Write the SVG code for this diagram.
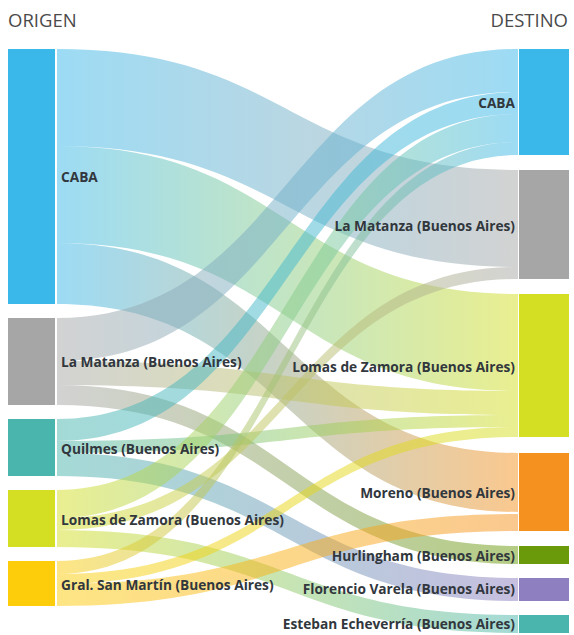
<svg xmlns="http://www.w3.org/2000/svg" width="574" height="635" viewBox="0 0 574 635">
<style>
.hdr{font-family:"Open Sans","Liberation Sans",sans-serif;font-size:18.5px;fill:#4a4a4a}
.lbl{font-family:"Open Sans","Liberation Sans",sans-serif;font-size:13.7px;font-weight:bold;fill:#31373d}
.r{text-anchor:end}
.lk{fill-opacity:0.5}
</style>
<defs>
<linearGradient id="g1" gradientUnits="userSpaceOnUse" x1="57" y1="0" x2="518" y2="0"><stop offset="0" stop-color="#3bb8ea"/><stop offset="1" stop-color="#a6a6a6"/></linearGradient>
<linearGradient id="g2" gradientUnits="userSpaceOnUse" x1="57" y1="0" x2="518" y2="0"><stop offset="0" stop-color="#3bb8ea"/><stop offset="1" stop-color="#d4de22"/></linearGradient>
<linearGradient id="g3" gradientUnits="userSpaceOnUse" x1="57" y1="0" x2="518" y2="0"><stop offset="0" stop-color="#3bb8ea"/><stop offset="1" stop-color="#f5921f"/></linearGradient>
<linearGradient id="g4" gradientUnits="userSpaceOnUse" x1="57" y1="0" x2="518" y2="0"><stop offset="0" stop-color="#a6a6a6"/><stop offset="1" stop-color="#3bb8ea"/></linearGradient>
<linearGradient id="g5" gradientUnits="userSpaceOnUse" x1="57" y1="0" x2="518" y2="0"><stop offset="0" stop-color="#a6a6a6"/><stop offset="1" stop-color="#d4de22"/></linearGradient>
<linearGradient id="g6" gradientUnits="userSpaceOnUse" x1="57" y1="0" x2="518" y2="0"><stop offset="0" stop-color="#a6a6a6"/><stop offset="1" stop-color="#6a9a0a"/></linearGradient>
<linearGradient id="g7" gradientUnits="userSpaceOnUse" x1="57" y1="0" x2="518" y2="0"><stop offset="0" stop-color="#4ab5ad"/><stop offset="1" stop-color="#3bb8ea"/></linearGradient>
<linearGradient id="g8" gradientUnits="userSpaceOnUse" x1="57" y1="0" x2="518" y2="0"><stop offset="0" stop-color="#4ab5ad"/><stop offset="1" stop-color="#d4de22"/></linearGradient>
<linearGradient id="g9" gradientUnits="userSpaceOnUse" x1="57" y1="0" x2="518" y2="0"><stop offset="0" stop-color="#4ab5ad"/><stop offset="1" stop-color="#8e7fc0"/></linearGradient>
<linearGradient id="g10" gradientUnits="userSpaceOnUse" x1="57" y1="0" x2="518" y2="0"><stop offset="0" stop-color="#d4de22"/><stop offset="1" stop-color="#3bb8ea"/></linearGradient>
<linearGradient id="g11" gradientUnits="userSpaceOnUse" x1="57" y1="0" x2="518" y2="0"><stop offset="0" stop-color="#d4de22"/><stop offset="1" stop-color="#a6a6a6"/></linearGradient>
<linearGradient id="g12" gradientUnits="userSpaceOnUse" x1="57" y1="0" x2="518" y2="0"><stop offset="0" stop-color="#d4de22"/><stop offset="1" stop-color="#4ab5ad"/></linearGradient>
<linearGradient id="g13" gradientUnits="userSpaceOnUse" x1="57" y1="0" x2="518" y2="0"><stop offset="0" stop-color="#fdcc0a"/><stop offset="1" stop-color="#3bb8ea"/></linearGradient>
<linearGradient id="g14" gradientUnits="userSpaceOnUse" x1="57" y1="0" x2="518" y2="0"><stop offset="0" stop-color="#fdcc0a"/><stop offset="1" stop-color="#d4de22"/></linearGradient>
<linearGradient id="g15" gradientUnits="userSpaceOnUse" x1="57" y1="0" x2="518" y2="0"><stop offset="0" stop-color="#fdcc0a"/><stop offset="1" stop-color="#f5921f"/></linearGradient>
</defs>
<rect width="574" height="635" fill="#ffffff"/>
<text class="hdr" x="8" y="27">ORIGEN</text>
<text class="hdr r" x="568" y="27">DESTINO</text>
<g id="links">
<path class="lk" fill="url(#g1)" d="M57,49 C287.5,49 287.5,170 518,170 L518,267 C287.5,267 287.5,146 57,146 Z"/>
<path class="lk" fill="url(#g2)" d="M57,146 C287.5,146 287.5,294 518,294 L518,391 C287.5,391 287.5,243 57,243 Z"/>
<path class="lk" fill="url(#g3)" d="M57,243 C287.5,243 287.5,453 518,453 L518,512 C287.5,512 287.5,304 57,304 Z"/>
<path class="lk" fill="url(#g4)" d="M57,318 C287.5,318 287.5,49 518,49 L518,92 C287.5,92 287.5,361 57,361 Z"/>
<path class="lk" fill="url(#g5)" d="M57,361 C287.5,361 287.5,391 518,391 L518,415 C287.5,415 287.5,385 57,385 Z"/>
<path class="lk" fill="url(#g6)" d="M57,385 C287.5,385 287.5,546 518,546 L518,564 C287.5,564 287.5,405 57,405 Z"/>
<path class="lk" fill="url(#g7)" d="M57,419 C287.5,419 287.5,92 518,92 L518,114 C287.5,114 287.5,441 57,441 Z"/>
<path class="lk" fill="url(#g8)" d="M57,441 C287.5,441 287.5,415 518,415 L518,427 C287.5,427 287.5,453 57,453 Z"/>
<path class="lk" fill="url(#g9)" d="M57,453 C287.5,453 287.5,578 518,578 L518,601 C287.5,601 287.5,476 57,476 Z"/>
<path class="lk" fill="url(#g10)" d="M57,490 C287.5,490 287.5,114 518,114 L518,142 C287.5,142 287.5,518 57,518 Z"/>
<path class="lk" fill="url(#g11)" d="M57,518 C287.5,518 287.5,267 518,267 L518,279 C287.5,279 287.5,530 57,530 Z"/>
<path class="lk" fill="url(#g12)" d="M57,530 C287.5,530 287.5,615 518,615 L518,633 C287.5,633 287.5,547 57,547 Z"/>
<path class="lk" fill="url(#g13)" d="M57,561 C287.5,561 287.5,142 518,142 L518,155 C287.5,155 287.5,574 57,574 Z"/>
<path class="lk" fill="url(#g14)" d="M57,574 C287.5,574 287.5,427 518,427 L518,437 C287.5,437 287.5,584 57,584 Z"/>
<path class="lk" fill="url(#g15)" d="M57,584 C287.5,584 287.5,514 518,514 L518,531 C287.5,531 287.5,606 57,606 Z"/>
</g>
<g id="o-caba"><rect x="8" y="49" width="47" height="255" fill="#3bb8ea"/><text class="lbl" x="61" y="182">CABA</text></g>
<g id="o-lamatanza"><rect x="8" y="318" width="47" height="87" fill="#a6a6a6"/><text class="lbl" x="61" y="367">La Matanza (Buenos Aires)</text></g>
<g id="o-quilmes"><rect x="8" y="419" width="47" height="57" fill="#4ab5ad"/><text class="lbl" x="61" y="454">Quilmes (Buenos Aires)</text></g>
<g id="o-lomas"><rect x="8" y="490" width="47" height="57" fill="#d4de22"/><text class="lbl" x="61" y="525">Lomas de Zamora (Buenos Aires)</text></g>
<g id="o-sanmartin"><rect x="8" y="561" width="47" height="45" fill="#fdcc0a"/><text class="lbl" x="61" y="590">Gral. San Martín (Buenos Aires)</text></g>
<g id="d-caba"><rect x="519" y="49" width="50" height="106" fill="#3bb8ea"/><text class="lbl r" x="515" y="108">CABA</text></g>
<g id="d-lamatanza"><rect x="519" y="170" width="50" height="109" fill="#a6a6a6"/><text class="lbl r" x="515" y="231">La Matanza (Buenos Aires)</text></g>
<g id="d-lomas"><rect x="519" y="294" width="50" height="143" fill="#d4de22"/><text class="lbl r" x="515" y="372">Lomas de Zamora (Buenos Aires)</text></g>
<g id="d-moreno"><rect x="519" y="453" width="50" height="78" fill="#f5921f"/><text class="lbl r" x="515" y="498">Moreno (Buenos Aires)</text></g>
<g id="d-hurlingham"><rect x="519" y="546" width="50" height="18" fill="#6a9a0a"/><text class="lbl r" x="515" y="561">Hurlingham (Buenos Aires)</text></g>
<g id="d-varela"><rect x="519" y="578" width="50" height="23" fill="#8e7fc0"/><text class="lbl r" x="515" y="594">Florencio Varela (Buenos Aires)</text></g>
<g id="d-echeverria"><rect x="519" y="615" width="50" height="18" fill="#4ab5ad"/><text class="lbl r" x="515" y="629">Esteban Echeverría (Buenos Aires)</text></g>
</svg>
